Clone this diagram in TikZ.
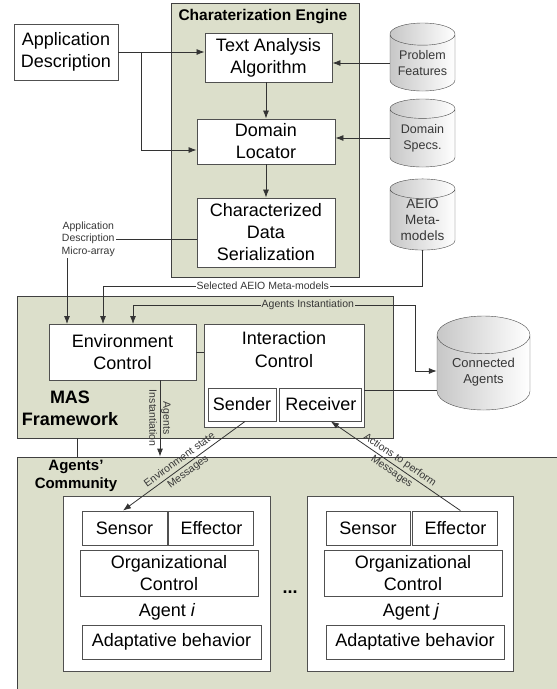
\documentclass[tikz,border=0pt]{standalone}
\usepackage{fontspec}
\setmainfont{Liberation Sans}
\usetikzlibrary{arrows.meta,positioning,shapes.geometric}
\definecolor{panelfill}{RGB}{220,223,203}
\definecolor{edgegray}{RGB}{80,80,80}
\definecolor{lblgray}{RGB}{55,55,55}

\begin{document}
\begin{tikzpicture}[x=1pt, y=-1pt,
  panel/.style={rectangle, draw=black!75, fill=panelfill, line width=0.8pt, inner sep=0pt},
  box/.style={rectangle, draw=edgegray, fill=white, line width=0.9pt, align=center, inner sep=0pt, font=\fontsize{18}{22}\selectfont},
  store/.style={cylinder, shape border rotate=90, anchor=shape center, draw=black!70, left color=black!22, right color=white, align=center, inner sep=0pt, text=lblgray, font=\fontsize{12.5}{16}\selectfont},
  lbl/.style={inner sep=1pt, align=center, text=lblgray, font=\fontsize{10.5}{12.5}\selectfont},
  title/.style={align=center, font=\bfseries\fontsize{15.5}{18}\selectfont},
  arr/.style={-{Latex[length=8pt,width=6pt]}, draw=black!80, line width=0.8pt},
  link/.style={draw=black!80, line width=0.8pt}
]
\useasboundingbox (0,0) rectangle (557,689);

% panels
\node[panel, minimum width=188, minimum height=274] (engine) at (265,140) {};
\node[panel, minimum width=376, minimum height=142] (mas) at (205,367) {};
\node[panel, minimum width=548, minimum height=243] (community) at (291,578.5) {};
\node[title, anchor=west] (enginetitle) at (175,17) {Charaterization Engine};
\node[title, font=\bfseries\fontsize{18}{22}\selectfont] (mastitle) at (70,408) {MAS\\Framework};
\node[title, font=\bfseries\fontsize{15}{18}\selectfont] (comtitle) at (76,476) {Agents'\\Community};

% engine
\node[box, minimum width=104, minimum height=56] (appdesc) at (66,52) {Application\\Description};
\node[box, minimum width=127, minimum height=49] (textalg) at (268.5,57.5) {Text Analysis\\Algorithm};
\node[box, minimum width=138, minimum height=45] (locator) at (266,141.5) {Domain\\Locator};
\node[box, minimum width=138, minimum height=69] (serial) at (266,232.5) {Characterized\\Data\\Serialization};

% stores
\node[store, minimum width=65, minimum height=68, aspect=0.45] (probfeat) at (422.5,57) {Problem\\Features};
\node[store, minimum width=65, minimum height=68, aspect=0.45] (domspecs) at (422.5,133) {Domain\\Specs.};
\node[store, minimum width=65, minimum height=67, aspect=0.45, font=\fontsize{13.5}{16}\selectfont] (aeio) at (422.5,214.5) {AEIO\\Meta-\\models};
\node[store, minimum width=93, minimum height=94, aspect=0.6, font=\fontsize{13}{16}\selectfont] (conn) at (483.5,363) {Connected\\Agents};

% MAS framework
\node[box, minimum width=147, minimum height=56] (envctrl) at (122.5,352) {Environment\\Control};
\node[box, minimum width=160, minimum height=103] (interctrl) at (284,375.5) {};
\node[align=center, inner sep=0pt, font=\fontsize{18}{23}\selectfont] (icname) at (284,350) {Interaction\\Control};
\node[box, minimum width=68, minimum height=33] (sender) at (242,404.5) {Sender};
\node[box, minimum width=82, minimum height=33, right=3pt of sender] (receiver) {Receiver};
\node[lbl, anchor=east] (adlabel) at (116,239) {Application\\Description\\Micro-array};

% agents
\node[box, minimum width=207, minimum height=175] (agenti) at (166.5,583.5) {};
\node[box, minimum width=85, minimum height=34] (sensori) at (124.5,528) {Sensor};
\node[box, minimum width=85, minimum height=34, right=1pt of sensori] (effectori) {Effector};
\node[box, minimum width=178, minimum height=46] (orgi) at (169,573) {Organizational\\Control};
\node[font=\fontsize{18}{22}\selectfont] (namei) at (167,612) {Agent \textit{i}};
\node[box, minimum width=179, minimum height=34] (adapti) at (171.5,642) {Adaptative behavior};

\node[box, minimum width=206, minimum height=175] (agentj) at (410,583.5) {};
\node[box, minimum width=84, minimum height=34] (sensorj) at (368,528) {Sensor};
\node[box, minimum width=85, minimum height=34, right=2pt of sensorj] (effectorj) {Effector};
\node[box, minimum width=178, minimum height=46] (orgj) at (413,573) {Organizational\\Control};
\node[font=\fontsize{18}{22}\selectfont] (namej) at (411,612) {Agent \textit{j}};
\node[box, minimum width=178, minimum height=34] (adaptj) at (415,642) {Adaptative behavior};
\node[font=\bfseries\fontsize{18}{22}\selectfont] (dots) at (290,592) {...};

% turning points
\coordinate (split) at (141,52);
\coordinate (adin) at (67,324);
\coordinate (selin) at (103,324);
\coordinate (instin) at (133,324);
\coordinate (instturn) at (415,305);
\coordinate (instout) at (160,380);
\coordinate (maslink) at (77,438);

% connectors
\draw[arr] (appdesc.east) -- (appdesc.east -| textalg.west);
\draw[arr] (split) |- (locator.west |- 0,150);
\draw[arr] (textalg.south -| locator.north) -- (locator.north);
\draw[arr] (locator.south) -- (serial.north);
\draw[arr] (probfeat.west |- 0,63) -- (textalg.east |- 0,63);
\draw[arr] (domspecs.west |- 0,138) -- (locator.east |- 0,138);
\draw[link] (adlabel.east) -- (adlabel.east -| serial.west);
\draw[arr] (adin |- 0,258) -- (adin);
\draw[arr] (aeio.south) |- node[lbl, fill=white, pos=0.75] {Selected AEIO Meta-models} (selin |- 0,286) -- (selin);
\draw[arr, {Latex[length=8pt,width=6pt]}-{Latex[length=8pt,width=6pt]}] (instin) |- node[lbl, fill=panelfill, pos=0.81] {Agents Instantiation} (instturn) |- (conn.west |- 0,371);
\draw[link] (envctrl.east) -- (envctrl.east -| interctrl.west);
\draw[link] (interctrl.east |- 0,390) -- (conn.west |- 0,390);
\draw[arr] (instout) -- node[lbl, rotate=-90, font=\fontsize{10.5}{14}\selectfont] {Agents\\Instantiation} (instout |- community.north);
\draw[link] (maslink) -- (maslink |- community.north);
\draw[arr] ([xshift=3pt]sender.south) -- node[lbl, sloped, font=\fontsize{10.5}{14.5}\selectfont] {Environment state\\Messages} ([xshift=-1.5pt]sensori.north);
\draw[arr] ([xshift=5pt]effectorj.north) -- node[lbl, sloped, font=\fontsize{10.5}{14.5}\selectfont] {Actions to perform\\Messages} ([xshift=10pt]receiver.south);

\end{tikzpicture}
\end{document}
